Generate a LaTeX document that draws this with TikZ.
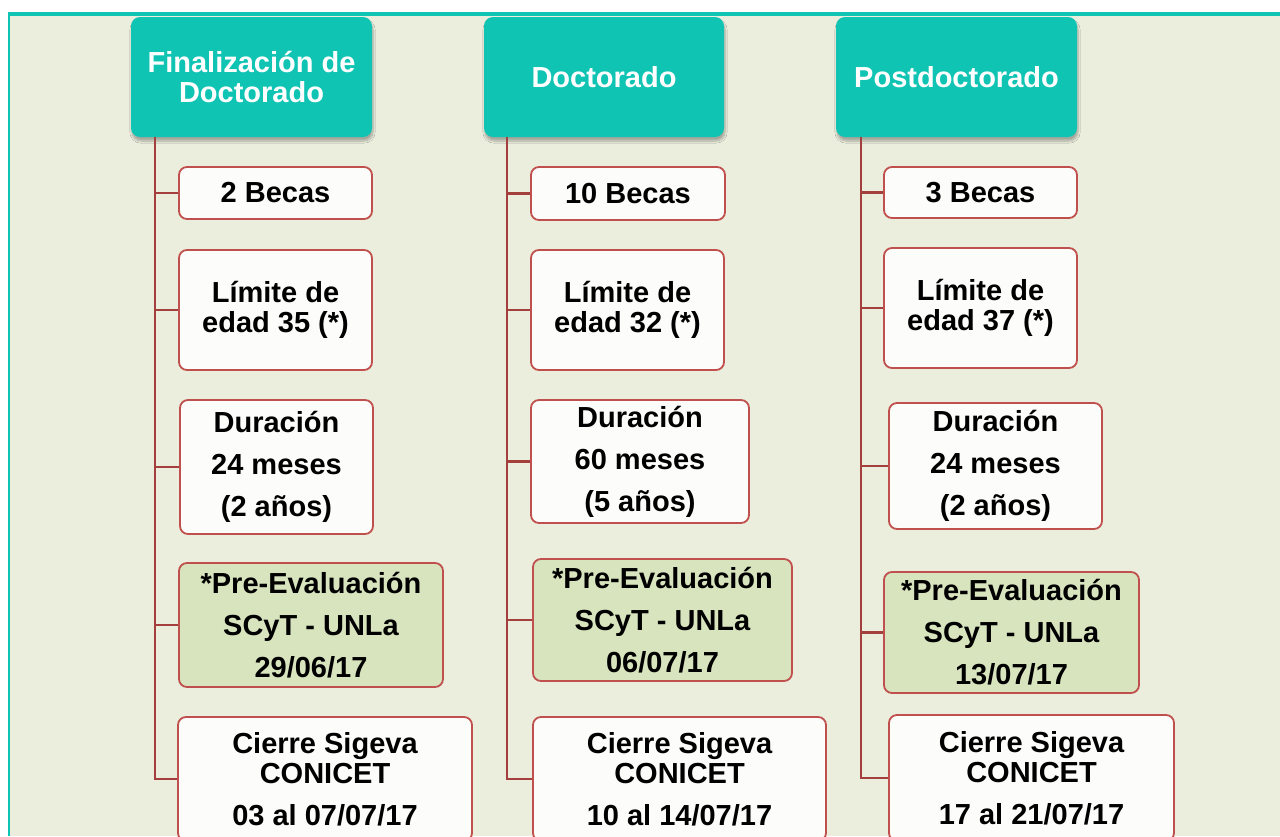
\documentclass[tikz,border=0pt]{standalone}
\usepackage{fontspec}
\setmainfont{Liberation Sans}
\usepackage{tikz}
\usetikzlibrary{
    positioning,
    shadows.blur
}
\definecolor{fondo}{HTML}{EBEEDD}
\definecolor{turquesa}{HTML}{10C4B4}
\definecolor{borde}{HTML}{C0504D}
\definecolor{rama}{HTML}{A3403D}
\definecolor{verdoso}{HTML}{D8E4BE}
\definecolor{blanco}{HTML}{FCFCFA}
\tikzset{
    titulo/.style={
        fill=turquesa, rounded corners=9pt, inner sep=0pt,
        text=white, align=center,
        font=\bfseries\fontsize{29}{30}\selectfont,
        blur shadow={shadow xshift=1pt, shadow yshift=-4pt, shadow opacity=30, shadow blur steps=8}
    },
    dato/.style={
        draw=borde, line width=1.8pt, fill=blanco, rounded corners=8pt,
        inner sep=0pt, align=center,
        font=\bfseries\fontsize{29}{30}\selectfont
    },
    tres/.style={dato, font=\bfseries\fontsize{29}{42}\selectfont},
    preeval/.style={tres, fill=verdoso},
    rama/.style={draw=rama, line width=2.4pt}
}

\begin{document}
\begin{tikzpicture}[x=1pt, y=-1pt]
    \useasboundingbox (0,0) rectangle (1280,836);
    % marco
    \fill[fondo] (9,15) rectangle (1280,836);
    \fill[turquesa] (8,12) rectangle (1280,16);
    \fill[turquesa] (7.5,12) rectangle (9.5,836);

    % Finalizacion de doctorado
    \node[titulo, minimum width=241pt, minimum height=120pt] (h1) at (251.5,77) {Finalización de\\Doctorado};
    \node[dato, minimum width=193pt, minimum height=52pt] (b1) at (275.5,193) {2 Becas};
    \node[dato, minimum width=193pt, minimum height=120pt] (l1) at (275.5,310) {Límite de\\edad 35 (*)};
    \node[tres, minimum width=193pt, minimum height=134pt] (d1) at (276.5,467) {Duración\\24 meses\\(2 años)};
    \node[preeval, minimum width=264pt, minimum height=124pt] (p1) at (311,625) {*Pre-Evaluación\\SCyT - UNLa\\29/06/17};
    \node[dato, minimum width=294pt, minimum height=124pt] (c1) at (325,779) {Cierre Sigeva\\CONICET\\[12pt]03 al 07/07/17};
    \coordinate (r1) at ([xshift=24pt]h1.south west);
    \draw[rama] (r1) |- (b1.west);
    \draw[rama] (r1) |- (l1.west);
    \draw[rama] (r1) |- (d1.west);
    \draw[rama] (r1) |- (p1.west);
    \draw[rama] (r1) |- (c1.west);

    % Doctorado
    \node[titulo, minimum width=240pt, minimum height=120pt] (h2) at (604,77) {Doctorado};
    \node[dato, minimum width=194pt, minimum height=53pt] (b2) at (628,193.5) {10 Becas};
    \node[dato, minimum width=193pt, minimum height=120pt] (l2) at (627.5,310) {Límite de\\edad 32 (*)};
    \node[tres, minimum width=218pt, minimum height=123pt] (d2) at (640,461.5) {Duración\\60 meses\\(5 años)};
    \node[preeval, minimum width=259pt, minimum height=122pt] (p2) at (662.5,620) {*Pre-Evaluación\\SCyT - UNLa\\06/07/17};
    \node[dato, minimum width=293pt, minimum height=124pt] (c2) at (679.5,779) {Cierre Sigeva\\CONICET\\[12pt]10 al 14/07/17};
    \coordinate (r2) at ([xshift=23pt]h2.south west);
    \draw[rama] (r2) |- (b2.west);
    \draw[rama] (r2) |- (l2.west);
    \draw[rama] (r2) |- (d2.west);
    \draw[rama] (r2) |- (p2.west);
    \draw[rama] (r2) |- (c2.west);

    % Postdoctorado
    \node[titulo, minimum width=241pt, minimum height=120pt] (h3) at (956.5,77) {Postdoctorado};
    \node[dato, minimum width=193pt, minimum height=51pt] (b3) at (980.5,192.5) {3 Becas};
    \node[dato, minimum width=193pt, minimum height=120pt] (l3) at (980.5,308) {Límite de\\edad 37 (*)};
    \node[tres, minimum width=213pt, minimum height=126pt] (d3) at (995.5,466) {Duración\\24 meses\\(2 años)};
    \node[preeval, minimum width=255pt, minimum height=121pt] (p3) at (1011.5,632.5) {*Pre-Evaluación\\SCyT - UNLa\\13/07/17};
    \node[dato, minimum width=285pt, minimum height=126pt] (c3) at (1031.5,778) {Cierre Sigeva\\CONICET\\[12pt]17 al 21/07/17};
    \coordinate (r3) at ([xshift=25pt]h3.south west);
    \draw[rama] (r3) |- (b3.west);
    \draw[rama] (r3) |- (l3.west);
    \draw[rama] (r3) |- (d3.west);
    \draw[rama] (r3) |- (p3.west);
    \draw[rama] (r3) |- (c3.west);
\end{tikzpicture}
\end{document}
